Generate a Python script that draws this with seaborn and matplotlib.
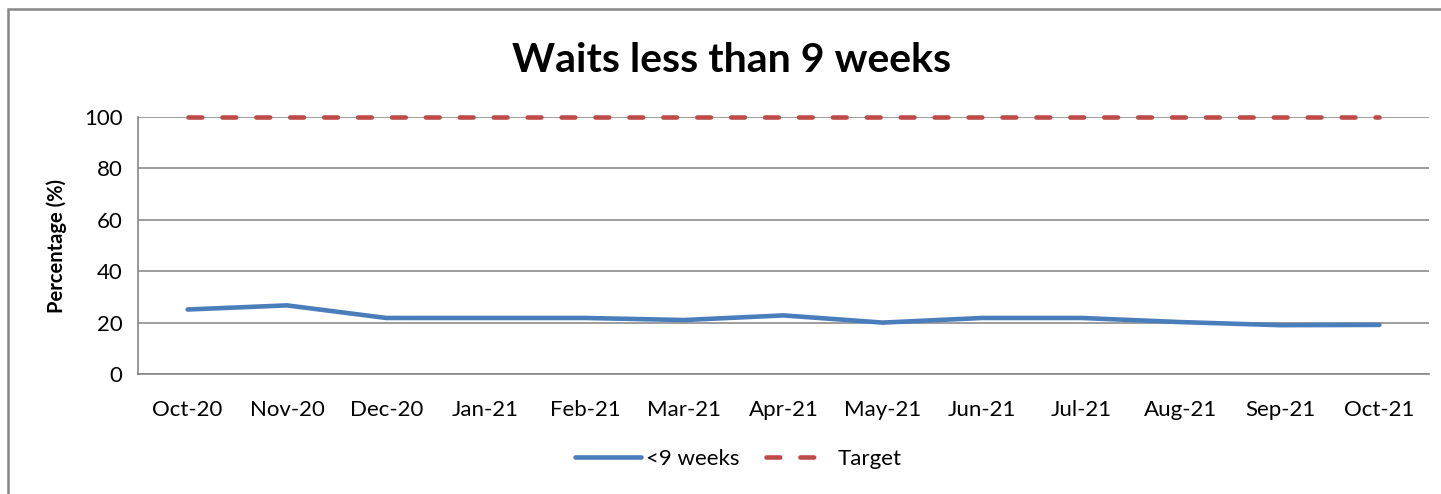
import matplotlib
matplotlib.use("Agg")
import matplotlib.pyplot as plt
import seaborn as sns
import pandas as pd
from matplotlib.patches import Rectangle

months = ["Oct-20", "Nov-20", "Dec-20", "Jan-21", "Feb-21", "Mar-21", "Apr-21",
          "May-21", "Jun-21", "Jul-21", "Aug-21", "Sep-21", "Oct-21"]
under_9_weeks = [25.1, 26.7, 21.8, 21.8, 21.8, 21.0, 22.8, 20.0, 21.8, 21.8, 20.2, 19.0, 19.1]
target = [100] * len(months)

df = pd.DataFrame({
    "month": months * 2,
    "value": under_9_weeks + target,
    "series": ["<9 weeks"] * len(months) + ["Target"] * len(months),
})

sns.set_style("white")
plt.rcParams["font.family"] = ["Lato", "DejaVu Sans"]
plt.rcParams["text.color"] = "black"
plt.rcParams["xtick.color"] = "black"
plt.rcParams["ytick.color"] = "black"
plt.rcParams["axes.labelcolor"] = "black"

fig = plt.figure(figsize=(14.41, 4.94), dpi=100)
ax = fig.add_axes([138 / 1441, 1 - 374 / 494, (1429 - 138) / 1441, (374 - 117) / 494])

sns.lineplot(data=df, x="month", y="value", hue="series", style="series",
             palette={"<9 weeks": "#4A7EBB", "Target": "#BE4B48"},
             dashes={"<9 weeks": "", "Target": (3.0, 4.4)},
             linewidth=3.3, sort=False, ax=ax)
for line in ax.lines:
    line.set_dash_capstyle("round")
    line.set_solid_capstyle("round")
    line.set_clip_on(False)
    line.set_zorder(3)

ax.set_xlim(-0.5, len(months) - 0.5)
ax.set_ylim(0, 100)
ax.set_yticks(range(0, 101, 20))
ax.set_xticks(range(len(months)))
ax.set_xticklabels(months)
ax.set_xticks([i - 0.5 for i in range(len(months) + 1)], minor=True)
ax.tick_params(axis="x", which="major", length=0, pad=19, labelsize=16)
ax.tick_params(axis="x", which="minor", length=8, width=1.2, color="#868686", direction="out")
ax.tick_params(axis="y", length=6, width=1.2, color="#868686", direction="out",
               labelsize=16, pad=5)
ax.grid(axis="y", color="#8C8C8C", linewidth=1.2)
ax.set_axisbelow(True)

for side in ["top", "right"]:
    ax.spines[side].set_visible(False)
for side in ["left", "bottom"]:
    ax.spines[side].set_color("#868686")
    ax.spines[side].set_linewidth(1.2)

ax.set_xlabel("")
ax.set_ylabel("Percentage (%)", fontsize=14.5, fontweight="bold", labelpad=12)
fig.text(732 / 1441, 1 - 60 / 494, "Waits less than 9 weeks", fontsize=29.5,
         fontweight="bold", ha="center", va="center")

handles, labels = ax.get_legend_handles_labels()
ax.legend(handles, labels, loc="center", bbox_to_anchor=((738 - 138) / 1291, (459 - 374) / -257),
          ncol=2, frameon=False, fontsize=16, handlelength=3.0, columnspacing=1.2,
          handletextpad=0.2)

fig.patches.append(Rectangle((8 / 1441, -0.1), 1.2, (494 - 9) / 494 + 0.1,
                             transform=fig.transFigure, fill=False,
                             edgecolor="#868686", linewidth=1.8))

fig.savefig("out.png", dpi=100)
